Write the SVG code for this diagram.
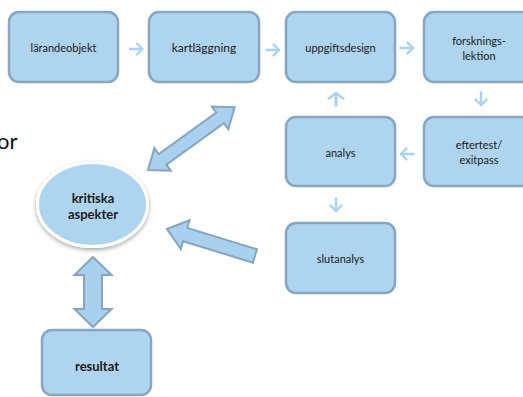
<svg xmlns="http://www.w3.org/2000/svg" width="523" height="397" viewBox="0 0 523 397">
<defs>
<style>
.box{fill:#aed4f0;stroke:#87a6bf;stroke-width:2.5}
.lbl{font-family:Lato,"Open Sans","Liberation Sans",sans-serif;font-size:11px;fill:#1a1a1a;text-anchor:middle}
.bld{font-family:Lato,"Open Sans","Liberation Sans",sans-serif;font-size:13px;font-weight:bold;fill:#1a1a1a;text-anchor:middle}
.sa{fill:none;stroke:#a9d3f0;stroke-width:2.4;stroke-linecap:round;stroke-linejoin:round}
.big{fill:#a9d1ee;stroke:#86a5bf;stroke-width:2;stroke-linejoin:miter}
</style>
<path id="sarrow" d="M-6.5,0 H6 M0.5,-5.5 L6,0 L0.5,5.5"/>
<filter id="sh" x="-20%" y="-20%" width="140%" height="150%">
<feGaussianBlur in="SourceAlpha" stdDeviation="2"/>
<feOffset dx="0" dy="2" result="b"/>
<feComponentTransfer><feFuncA type="linear" slope="0.35"/></feComponentTransfer>
<feMerge><feMergeNode/><feMergeNode in="SourceGraphic"/></feMerge>
</filter>
</defs>
<rect width="523" height="397" fill="#ffffff"/>
<text x="-3" y="149" style="font-family:Lato,'Open Sans','Liberation Sans',sans-serif;font-size:22px;fill:#111">or</text>

<g id="connectors">
<g class="sa">
<use href="#sarrow" transform="translate(136.5,49)"/>
<use href="#sarrow" transform="translate(273,50)"/>
<use href="#sarrow" transform="translate(407,48)"/>
<use href="#sarrow" transform="translate(481,99) rotate(90)"/>
<use href="#sarrow" transform="translate(407,154) rotate(180)"/>
<use href="#sarrow" transform="translate(336,99) scale(1.3,1) rotate(-90)"/>
<use href="#sarrow" transform="translate(336,205) rotate(90)"/>
</g>
<polygon class="big" transform="translate(148,170) rotate(-35.9)" points="0,0 18,-14 18,-6.5 89,-6.5 89,-14 107,0 89,14 89,6.5 18,6.5 18,14"/>
<polygon class="big" transform="translate(167,229) rotate(17.05)" points="0,0 19,-15 19,-7 92,-7 92,7 19,7 19,15"/>
<polygon class="big" points="93,257 111.5,275 102,275 102,309 111.5,309 93,327 74.5,309 84,309 84,275 74.5,275"/>
</g>

<g id="n-larandeobjekt"><rect class="box" x="9" y="12" width="109" height="70" rx="10"/><text class="lbl" x="63.5" y="52">lärandeobjekt</text></g>
<g id="n-kartlaggning"><rect class="box" x="149" y="12" width="110" height="70" rx="10"/><text class="lbl" x="204" y="52" style="font-size:12px">kartläggning</text></g>
<g id="n-uppgiftsdesign"><rect class="box" x="286" y="12" width="109" height="70" rx="10"/><text class="lbl" x="340.5" y="52">uppgiftsdesign</text></g>
<g id="n-forskningslektion"><rect class="box" x="424" y="12" width="110" height="70" rx="10"/><text class="lbl" x="479" y="45">forsknings-</text><text class="lbl" x="479" y="60">lektion</text></g>
<g id="n-analys"><rect class="box" x="286" y="117" width="109" height="69" rx="10"/><text class="lbl" x="340.5" y="157">analys</text></g>
<g id="n-eftertest"><rect class="box" x="424" y="117" width="110" height="69" rx="10"/><text class="lbl" x="479" y="149">eftertest/</text><text class="lbl" x="479" y="164">exitpass</text></g>
<g id="n-slutanalys"><rect class="box" x="286" y="223" width="109" height="70" rx="10"/><text class="lbl" x="340.5" y="263">slutanalys</text></g>
<g id="n-kritiska"><ellipse cx="92.5" cy="204.5" rx="55" ry="42" fill="#aed4f0" stroke="#ffffff" stroke-width="3" filter="url(#sh)"/><text class="bld" x="93" y="203">kritiska</text><text class="bld" x="93" y="219">aspekter</text></g>
<g id="n-resultat"><rect class="box" x="42" y="330" width="109" height="65" rx="10"/><text class="bld" x="97" y="371">resultat</text></g>
</svg>
